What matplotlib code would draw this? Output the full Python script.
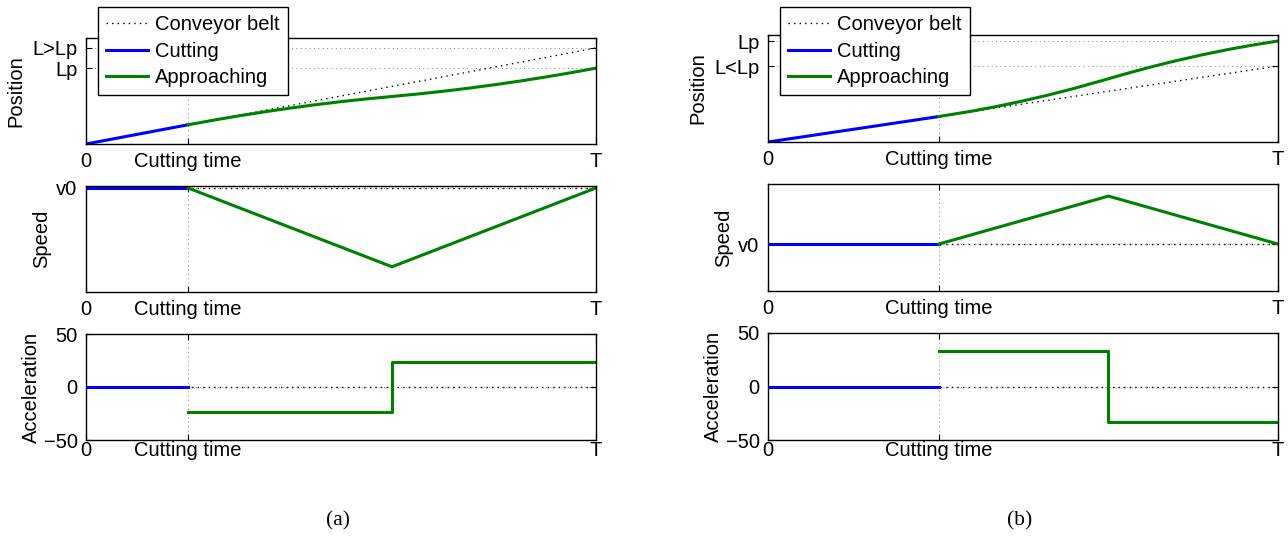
import matplotlib
matplotlib.use("Agg")
import matplotlib.pyplot as plt

plt.rcParams['font.family'] = ['Liberation Sans', 'DejaVu Sans']
plt.rcParams['font.size'] = 14.5

# ---------------- data (a) ----------------
tc_a = 0.2
belt_pos_a_t = [0.0, 1.0]
belt_pos_a = [0.0, 1.0]
cut_pos_a_t = [0.0, 0.2]
cut_pos_a = [0.0, 0.2]
app_pos_a_t = [0.2, 0.25, 0.3, 0.35, 0.4, 0.45, 0.5, 0.55, 0.6, 0.65, 0.7, 0.75, 0.8, 0.85, 0.9, 0.95, 1.0]
app_pos_a = [0.2, 0.2484, 0.2934, 0.3352, 0.3738, 0.4090, 0.4409, 0.4696, 0.495,
             0.5204, 0.5491, 0.5810, 0.6163, 0.6548, 0.6966, 0.7416, 0.79]
pos_ticks_a = [0.79, 1.0]
pos_ticklabels_a = ['Lp', 'L>Lp']
pos_ylim_a = (0.0, 1.104)

belt_spd_a = [1.0, 1.0]
cut_spd_a = [1.0, 1.0]
app_spd_a_t = [0.2, 0.6, 1.0]
app_spd_a = [1.0, 0.475, 1.0]
spd_ylim_a = (0.307, 1.013)

belt_acc_a = [0.0, 0.0]
cut_acc_a = [0.0, 0.0]
app_acc_a_t = [0.2, 0.6, 0.6, 1.0]
app_acc_a = [-23.6, -23.6, 23.6, 23.6]

# ---------------- data (b) ----------------
tc_b = 0.335
belt_pos_b_t = [0.0, 1.0]
belt_pos_b = [0.0, 1.0]
cut_pos_b_t = [0.0, 0.335]
cut_pos_b = [0.0, 0.335]
app_pos_b_t = [0.335, 0.4, 0.45, 0.5, 0.55, 0.6, 0.6675, 0.7, 0.75, 0.8, 0.85, 0.9, 0.95, 1.0]
app_pos_b = [0.335, 0.4063, 0.4697, 0.5405, 0.6188, 0.7045, 0.8320, 0.8951, 0.9860,
             1.0695, 1.1455, 1.2141, 1.2753, 1.329]
pos_ticks_b = [1.0, 1.329]
pos_ticklabels_b = ['L<Lp', 'Lp']
pos_ylim_b = (0.0, 1.408)

belt_spd_b = [1.0, 1.0]
cut_spd_b = [1.0, 1.0]
app_spd_b_t = [0.335, 0.6675, 1.0]
app_spd_b = [1.0, 1.99, 1.0]
spd_ylim_b = (0.03, 2.24)

belt_acc_b = [0.0, 0.0]
cut_acc_b = [0.0, 0.0]
app_acc_b_t = [0.335, 0.6675, 0.6675, 1.0]
app_acc_b = [33.0, 33.0, -33.0, -33.0]

acc_ticks = [-50, 0, 50]
x_labels = ['0', 'Cutting time', 'T']

BLUE = (0, 0, 1)
GREEN = (0, 0.5, 0)
LW = 2.2

W, H = 1288, 560
fig = plt.figure(figsize=(W / 100, H / 100), dpi=100)


def ax_at(left, top, bottom, width=510):
    return fig.add_axes([left / W, 1 - bottom / H, width / W, (bottom - top) / H])


def style(ax, tc):
    ax.set_xlim(0, 1)
    ax.set_xticks([0, tc, 1])
    ax.set_xticklabels(x_labels)
    ax.tick_params(direction='in', length=4, width=0.8, top=True, right=True, pad=6)
    ax.grid(True, linestyle=(0, (1, 3.5)), color='0.5', linewidth=0.7)
    for s in ax.spines.values():
        s.set_linewidth(1.0)


def panel(left, tops, tc, data, caption):
    (bp_t, bp, cp_t, cp, ap_t, ap, pt, ptl, pyl,
     bs, cs, as_t, as_, syl, ba, ca, aa_t, aa) = data
    # position
    ax = ax_at(left, tops[0][0], tops[0][1])
    l1, = ax.plot(bp_t, bp, color='k', linestyle=(0, (1, 3)), linewidth=1.0, label='Conveyor belt')
    l2, = ax.plot(cp_t, cp, color=BLUE, linewidth=LW, label='Cutting')
    l3, = ax.plot(ap_t, ap, color=GREEN, linewidth=LW, label='Approaching')
    ax.set_ylim(*pyl)
    ax.set_yticks(pt)
    ax.set_yticklabels(ptl)
    style(ax, tc)
    ax.set_ylabel('Position', labelpad=5)
    leg = fig.legend(handles=[l1, l2, l3], loc='upper left',
                     bbox_to_anchor=((left + 12) / W, 1 - 7 / H), borderaxespad=0,
                     fancybox=False, edgecolor='k', framealpha=1, handlelength=2.1,
                     handletextpad=0.35, labelspacing=0.38, borderpad=0.4, fontsize=14.5)
    leg.get_frame().set_linewidth(1.0)
    # speed
    ax = ax_at(left, tops[1][0], tops[1][1])
    ax.plot([0, 1], bs, color='k', linestyle=(0, (1, 3)), linewidth=1.0)
    ax.plot([0, tc], cs, color=BLUE, linewidth=LW)
    ax.plot(as_t, as_, color=GREEN, linewidth=LW)
    ax.set_ylim(*syl)
    ax.set_yticks([1.0])
    ax.set_yticklabels(['v0'])
    style(ax, tc)
    ax.set_ylabel('Speed', labelpad=4)
    # acceleration
    ax = ax_at(left, tops[2][0], tops[2][1])
    ax.plot([0, 1], ba, color='k', linestyle=(0, (1, 3)), linewidth=1.0)
    ax.plot([0, tc], ca, color=BLUE, linewidth=LW)
    ax.plot(aa_t, aa, color=GREEN, linewidth=LW)
    ax.set_ylim(-50, 50)
    ax.set_yticks(acc_ticks)
    ax.set_yticklabels(['\u221250', '0', '50'])
    style(ax, tc)
    ax.tick_params(axis='x', pad=1)
    ax.set_ylabel('Acceleration', labelpad=2)
    fig.text((left + 252) / W, 1 - 521 / H, caption, ha='center', va='center',
             family=['Liberation Serif', 'DejaVu Serif'], fontsize=15.5)


panel(86, [(38, 144), (186, 292), (334, 440)], tc_a,
      (belt_pos_a_t, belt_pos_a, cut_pos_a_t, cut_pos_a, app_pos_a_t, app_pos_a,
       pos_ticks_a, pos_ticklabels_a, pos_ylim_a,
       belt_spd_a, cut_spd_a, app_spd_a_t, app_spd_a, spd_ylim_a,
       belt_acc_a, cut_acc_a, app_acc_a_t, app_acc_a), '(a)')
panel(768, [(35, 142), (184, 291), (333, 440)], tc_b,
      (belt_pos_b_t, belt_pos_b, cut_pos_b_t, cut_pos_b, app_pos_b_t, app_pos_b,
       pos_ticks_b, pos_ticklabels_b, pos_ylim_b,
       belt_spd_b, cut_spd_b, app_spd_b_t, app_spd_b, spd_ylim_b,
       belt_acc_b, cut_acc_b, app_acc_b_t, app_acc_b), '(b)')

fig.savefig('out.png', dpi=100)
